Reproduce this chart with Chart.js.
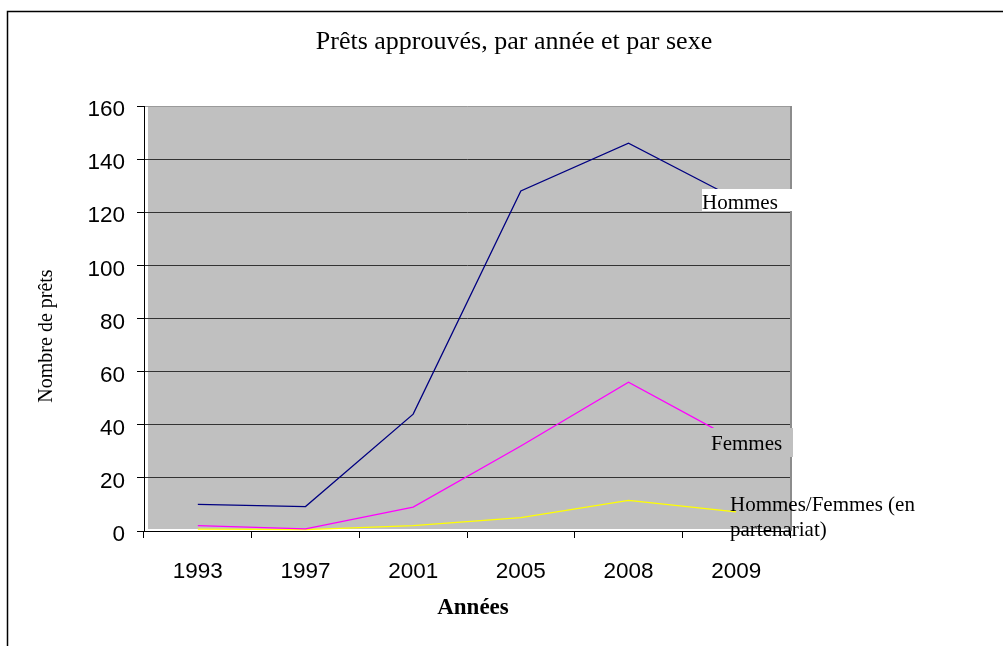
<!DOCTYPE html>
<html>
<head>
<meta charset="utf-8">
<script src="https://cdn.jsdelivr.net/npm/chart.js@4/dist/chart.umd.min.js"></script>
<style>
    html, body { margin: 0; padding: 0; background: #fff; }
    #wrap { width: 1003px; height: 646px; position: relative; }
</style>
</head>
<body>
<div id="wrap"><canvas id="loansChart"></canvas></div>
<script>
// Data
const years = ['1993', '1997', '2001', '2005', '2008', '2009'];
const hommes = [10, 9.2, 44, 128, 146, 125];
const femmes = [2, 0.8, 9, 32, 56, 34];
const partenariat = [0.7, 0.5, 2, 5, 11.5, 7.2];
const yTicks = [0, 20, 40, 60, 80, 100, 120, 140, 160];

const titleText = 'Prêts approuvés, par année et par sexe';
const yTitle = 'Nombre de prêts';
const xTitle = 'Années';

const SERIF = '"Liberation Serif", "Times New Roman", serif';
const SANS = '"Liberation Sans", Arial, sans-serif';

// Background, frame and free text drawn around the plot
const decor = {
    id: 'decor',
    beforeDraw: (chart) => {
        const { ctx, chartArea: a } = chart;
        ctx.save();
        ctx.fillStyle = '#c0c0c0';
        ctx.fillRect(a.left + 4, a.top, a.right - a.left - 4, a.bottom - a.top - 2);
        // outer frame (left and top edges visible)
        ctx.strokeStyle = '#000';
        ctx.lineWidth = 1.5;
        ctx.beginPath();
        ctx.moveTo(7.5, 646);
        ctx.lineTo(7.5, 11.5);
        ctx.lineTo(1003, 11.5);
        ctx.stroke();
        ctx.restore();
    },
    beforeDatasetsDraw: (chart) => {
        const { ctx, chartArea: a } = chart;
        ctx.save();
        ctx.strokeStyle = '#8c8c8c';
        ctx.lineWidth = 2;
        ctx.beginPath();
        ctx.moveTo(a.right + 1, a.top);
        ctx.lineTo(a.right + 1, a.bottom);
        ctx.stroke();
        ctx.restore();
    },
    afterDatasetsDraw: (chart) => {
        const { ctx } = chart;
        ctx.save();
        // label boxes that hide the line ends
        ctx.fillStyle = '#fff';
        ctx.fillRect(702, 189, 94, 22);
        ctx.fillStyle = '#c0c0c0';
        ctx.fillRect(703, 428, 90, 29);

        ctx.fillStyle = '#000';
        ctx.textBaseline = 'alphabetic';
        ctx.font = '26px ' + SERIF;
        ctx.textAlign = 'center';
        ctx.fillText(titleText, 514, 49);

        ctx.font = 'bold 23px ' + SERIF;
        ctx.fillText(xTitle, 473, 614);

        ctx.font = '21px ' + SERIF;
        ctx.textAlign = 'left';
        ctx.fillText('Hommes', 702, 209);
        ctx.fillText('Femmes', 711, 450);
        ctx.fillText('Hommes/Femmes (en', 730, 511);
        ctx.fillText('partenariat)', 730, 536);

        ctx.translate(47, 336);
        ctx.rotate(-Math.PI / 2);
        ctx.font = '20px ' + SERIF;
        ctx.textAlign = 'center';
        ctx.textBaseline = 'middle';
        ctx.fillText(yTitle, 0, 0);
        ctx.restore();
    }
};

const line = (data, color) => ({
    data: data,
    borderColor: color,
    borderWidth: 1.3,
    pointRadius: 0,
    tension: 0,
    fill: false
});

new Chart(document.getElementById('loansChart'), {
    type: 'line',
    data: {
        labels: years,
        datasets: [
            line(hommes, '#000080'),
            line(femmes, '#ff00ff'),
            line(partenariat, '#ffff00')
        ]
    },
    options: {
        responsive: true,
        maintainAspectRatio: false,
        animation: false,
        layout: { padding: { left: 0, right: 213, top: 106, bottom: 0 } },
        plugins: {
            legend: { display: false },
            tooltip: { enabled: false }
        },
        scales: {
            x: {
                offset: true,
                grid: {
                    offset: true,
                    drawOnChartArea: false,
                    tickLength: 7,
                    tickColor: '#000'
                },
                border: { color: '#000', width: 1 },
                ticks: {
                    color: '#000',
                    padding: 20,
                    maxRotation: 0,
                    font: { family: SANS, size: 22.5 }
                },
                afterFit: (scale) => { scale.height = 115; }
            },
            y: {
                min: 0,
                max: 160,
                afterBuildTicks: (scale) => { scale.ticks = yTicks.map(v => ({ value: v })); },
                grid: {
                    color: (c) => c.tick.value === 160 ? '#9a9a9a' : (c.tick.value === 0 ? 'rgba(0,0,0,0)' : '#333'),
                    tickColor: '#000',
                    tickLength: 7,
                    lineWidth: 1
                },
                border: { color: '#000', width: 1 },
                ticks: {
                    color: '#000',
                    padding: 12,
                    labelOffset: 4,
                    font: { family: SANS, size: 22.5 }
                },
                afterFit: (scale) => { scale.width = 144; }
            }
        }
    },
    plugins: [decor]
});
</script>
</body>
</html>
